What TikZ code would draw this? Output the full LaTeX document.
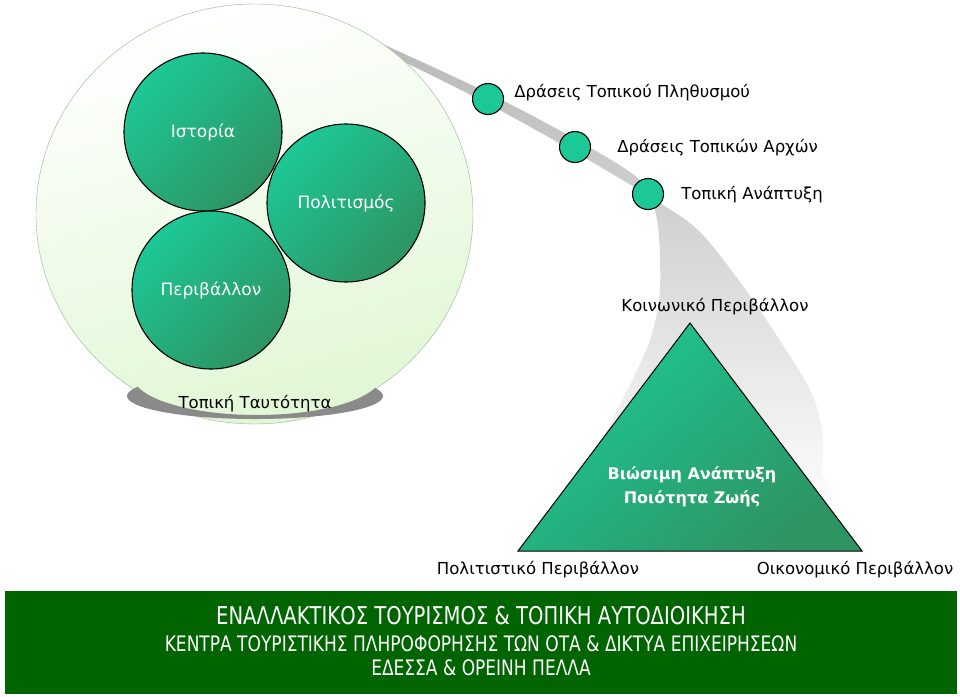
\documentclass[tikz,border=0pt]{standalone}
\usepackage{fontspec}
\setmainfont{DejaVu Sans}
\newfontfamily\bannerfont[FakeStretch=0.8]{DejaVu Sans}
\usetikzlibrary{positioning, shapes.geometric, calc}
\definecolor{tealtop}{RGB}{28,200,150}
\definecolor{tealbot}{RGB}{46,148,98}
\definecolor{haloedge}{RGB}{150,178,150}
\definecolor{halofill}{RGB}{224,247,212}
\definecolor{bannergreen}{RGB}{0,100,0}
\tikzset{%
  % Specifications for style of nodes:
         ball/.style = {circle, draw=black, line width=1.1pt, inner sep=0pt, minimum size=158pt,
                        top color=tealtop, bottom color=tealbot, shading angle=45,
                        text=white, font=\fontsize{17}{20}\selectfont},
          dot/.style = {circle, draw=black, line width=1.1pt, fill=tealtop, inner sep=0pt,
                        minimum size=31pt},
      caption/.style = {font=\fontsize{16.5}{20}\selectfont, inner sep=0pt},
   bannerline/.style = {text=white, inner sep=0pt, font=\bannerfont\fontsize{21.3}{24}\selectfont},
}

\begin{document}
\begin{tikzpicture}[x=1pt, y=-1pt]
  \useasboundingbox (0,0) rectangle (960,696);

  % grey swoosh behind the dots and the triangle
  \shade[top color=gray!55, middle color=gray!24, bottom color=white]
    plot[smooth cycle, tension=0.55] coordinates {
      (380,44) (400,52) (488,93) (575,139) (640,180) (656,215) (660,260)
      (659,300) (650,340) (630,385) (605,435) (585,480) (575,515)
      (815,515) (822,470) (822,430) (810,390) (775,333) (740,282)
      (700,232) (660,203) (580,155) (490,105) (400,60) (380,53)};

  % big light circle with its base
  \node (halo) [ellipse, draw=haloedge, inner sep=0pt,
                minimum width=437pt, minimum height=420pt,
                top color=white, bottom color=halofill, shading angle=15] at (254.5,214) {};
  \begin{scope}
    \clip (255,396) ellipse [x radius=128, y radius=23];
    \fill[gray!92, even odd rule] (255,396) ellipse [x radius=140, y radius=35]
                                  (257,376) ellipse [x radius=124, y radius=39];
  \end{scope}
  \node (identity)   [caption] at (255,404) {Τοπική Ταυτότητα};

  \node (history)    [ball] at (203,132) {Ιστορία};
  \node (culture)    [ball] at (346,203) {Πολιτισμός};
  \node (environ)    [ball] at (211,290) {Περιβάλλον};

  % dots on the swoosh
  \node (dotA) [dot] at (488,99) {};
  \node (dotB) [dot] at (575,147) {};
  \node (dotC) [dot] at (648,194) {};
  \node (lblA) [caption, right=10pt of dotA, yshift=6pt]  {Δράσεις Τοπικού Πληθυσμού};
  \node (lblB) [caption, right=26pt of dotB, yshift=-1pt] {Δράσεις Τοπικών Αρχών};
  \node (lblC) [caption, right=17pt of dotC, yshift=-1pt] {Τοπική Ανάπτυξη};

  % triangle
  \coordinate (apex)  at (690,323);
  \coordinate (baseL) at (518,551);
  \coordinate (baseR) at (862,551);
  \shade[draw=black, line width=1pt, top color=tealtop, bottom color=tealbot, shading angle=40]
    (apex) -- (baseR) -- (baseL) -- cycle;
  \node (core) [align=center, text=white, inner sep=0pt,
                font=\bfseries\fontsize{16}{24}\selectfont] at (692,487)
        {Βιώσιμη Ανάπτυξη\\Ποιότητα Ζωής};
  \node (social)   [caption, above=8pt of apex, xshift=25pt] {Κοινωνικό Περιβάλλον};
  \node (cultural) [caption, below=10pt of baseL, xshift=20pt] {Πολιτιστικό Περιβάλλον};
  \node (economic) [caption, below=10pt of baseR, xshift=-7pt] {Οικονομικό Περιβάλλον};

  % banner
  \node (banner) [rectangle, fill=bannergreen, inner sep=0pt,
                  minimum width=952pt, minimum height=103pt] at (481,642.5) {};
  \node (bannerA) [bannerline, font=\bannerfont\fontsize{24.5}{28}\selectfont] at (481,616)
        {ΕΝΑΛΛΑΚΤΙΚΟΣ ΤΟΥΡΙΣΜΟΣ \& ΤΟΠΙΚΗ ΑΥΤΟΔΙΟΙΚΗΣΗ};
  \node (bannerB) [bannerline] at (481,644)
        {ΚΕΝΤΡΑ ΤΟΥΡΙΣΤΙΚΗΣ ΠΛΗΡΟΦΟΡΗΣΗΣ ΤΩΝ ΟΤΑ \& ΔΙΚΤΥΑ ΕΠΙΧΕΙΡΗΣΕΩΝ};
  \node (bannerC) [bannerline] at (481,668)
        {ΕΔΕΣΣΑ \& ΟΡΕΙΝΗ ΠΕΛΛΑ};
\end{tikzpicture}
\end{document}
